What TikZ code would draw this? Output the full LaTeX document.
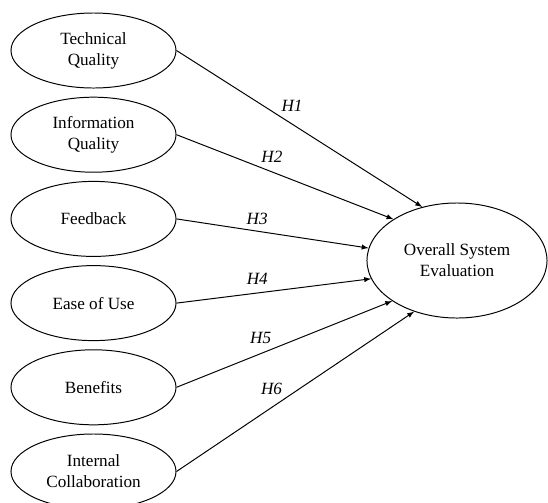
\documentclass[tikz,border=0pt]{standalone}
\usepackage{fontspec}
\setmainfont{Liberation Serif}
\usetikzlibrary{shapes.geometric}
\begin{document}
\begin{tikzpicture}[x=0.025cm, y=-0.025cm,
        construct/.style={draw, ellipse, line width=0.7pt, minimum width=4.125cm, minimum height=1.875cm, inner sep=0pt, align=center, font=\fontsize{12.2}{15}\selectfont},
        outcome/.style={construct, minimum width=4.5cm, minimum height=2.875cm},
        hyp/.style={inner sep=0pt, font=\fontsize{12.2}{15}\selectfont\itshape},
        link/.style={-latex, line width=0.7pt}]
        \useasboundingbox (0,0) rectangle (548,502);
        \node[construct] (tq) at (93.5,50.5) {Technical\\Quality};
        \node[construct] (iq) at (93.5,134.7) {Information\\Quality};
        \node[construct] (fb) at (93.5,218.9) {Feedback};
        \node[construct] (eu) at (93.5,303.1) {Ease of Use};
        \node[construct] (bn) at (93.5,387.3) {Benefits};
        \node[construct] (ic) at (93.5,471.5) {Internal\\Collaboration};
        \node[outcome] (ose) at (457,260.5) {Overall System\\Evaluation};
        \draw[link] (tq.east) -- node[hyp, pos=0.47, yshift=12.8pt] {H1} (ose.123.5);
        \draw[link] (iq.east) -- node[hyp, pos=0.44, yshift=10.9pt] {H2} (ose.147);
        \draw[link] (fb.east) -- node[hyp, pos=0.42, yshift=8.5pt] {H3} (ose.172.7);
        \draw[link] (eu.east) -- node[hyp, pos=0.415, yshift=10.3pt] {H4} (ose.192.8);
        \draw[link] (bn.east) -- node[hyp, pos=0.39, yshift=11.3pt] {H5} (ose.212.3);
        \draw[link] (ic.east) -- node[hyp, pos=0.40, yshift=12.9pt] {H6} (ose.230.8);
    \end{tikzpicture}
\end{document}
